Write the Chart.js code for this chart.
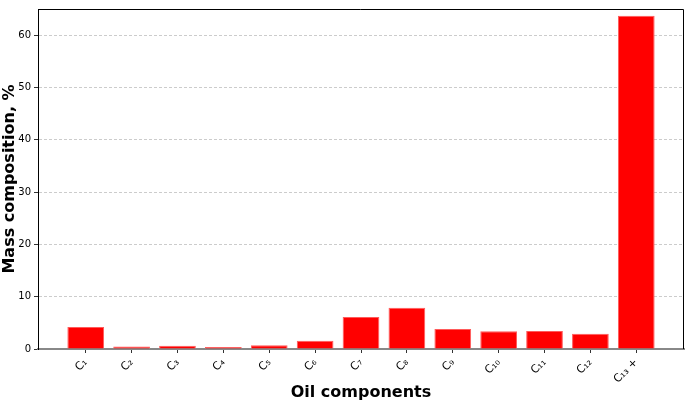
<!DOCTYPE html>
<html>
<head>
<meta charset="utf-8">
<script src="https://cdn.jsdelivr.net/npm/chart.js@4"></script>
<style>
  html, body { margin: 0; padding: 0; background: #fff; }
  #wrap { width: 685px; height: 402px; position: relative; }
</style>
</head>
<body>
<div id="wrap"><canvas id="chartOil"></canvas></div>
<script>
// --- Data ---
const components = ['C₁', 'C₂', 'C₃', 'C₄', 'C₅', 'C₆', 'C₇', 'C₈', 'C₉', 'C₁₀', 'C₁₁', 'C₁₂', 'C₁₃ +'];
const massPercent = [4.2, 0.5, 0.6, 0.4, 0.7, 1.6, 6.1, 7.9, 3.8, 3.4, 3.45, 2.9, 63.7];
const yTicks = [0, 10, 20, 30, 40, 50, 60];

const FONT = 'DejaVu Sans';

// top + right spines like matplotlib
const framePlugin = {
    id: 'frame',
    afterDraw: (chart) => {
        const { ctx, chartArea: { left, right, top, bottom } } = chart;
        ctx.save();
        ctx.strokeStyle = '#000';
        ctx.lineWidth = 1;
        ctx.beginPath();
        ctx.moveTo(left, top + 0.5);
        ctx.lineTo(right - 0.5, top + 0.5);
        ctx.lineTo(right - 0.5, bottom);
        ctx.stroke();
        ctx.restore();
    }
};

new Chart(document.getElementById('chartOil'), {
    type: 'bar',
    data: {
        datasets: [{
            data: massPercent.map((v, i) => ({ x: i, y: v })),
            backgroundColor: '#ff0000',
            borderColor: '#ff5a5a',
            borderWidth: 1,
            barPercentage: 0.8,
            categoryPercentage: 1.0
        }]
    },
    options: {
        responsive: true,
        maintainAspectRatio: false,
        animation: false,
        layout: { padding: { top: 1, right: 1, left: 0, bottom: 0 } },
        plugins: { legend: { display: false }, tooltip: { enabled: false } },
        scales: {
            x: {
                type: 'linear',
                offset: false,
                min: -1.04,
                max: 13.04,
                afterBuildTicks: (axis) => { axis.ticks = components.map((_, i) => ({ value: i })); },
                afterFit: (axis) => { axis.height = 53; },
                ticks: {
                    autoSkip: false,
                    minRotation: 45,
                    maxRotation: 45,
                    padding: 3,
                    color: '#000',
                    font: { family: FONT, size: 11 },
                    callback: (v) => components[v]
                },
                grid: {
                    offset: false,
                    drawOnChartArea: false,
                    drawTicks: true,
                    tickLength: 4,
                    tickColor: '#333',
                    tickWidth: 1
                },
                border: { color: '#888', width: 2 },
                title: {
                    display: true,
                    text: 'Oil components',
                    color: '#000',
                    font: { family: FONT, size: 16, weight: 'bold' },
                    padding: { top: 0, bottom: 0 }
                }
            },
            y: {
                min: 0,
                max: 65,
                afterBuildTicks: (axis) => { axis.ticks = yTicks.map(v => ({ value: v })); },
                afterFit: (axis) => { axis.width = 38; },
                ticks: {
                    padding: 3,
                    color: '#000',
                    font: { family: FONT, size: 10 }
                },
                grid: {
                    color: (ctx) => ctx.tick && ctx.tick.value === 0 ? 'rgba(0,0,0,0)' : '#cccccc',
                    lineWidth: 1,
                    tickLength: 4,
                    tickColor: '#333',
                    tickBorderDash: []
                },
                border: { color: '#000', width: 1, dash: [3, 2] },
                title: {
                    display: true,
                    text: 'Mass composition, %',
                    color: '#000',
                    font: { family: FONT, size: 16, weight: 'bold' },
                    padding: { top: 0, bottom: 0 }
                }
            }
        }
    },
    plugins: [framePlugin]
});
</script>
</body>
</html>
